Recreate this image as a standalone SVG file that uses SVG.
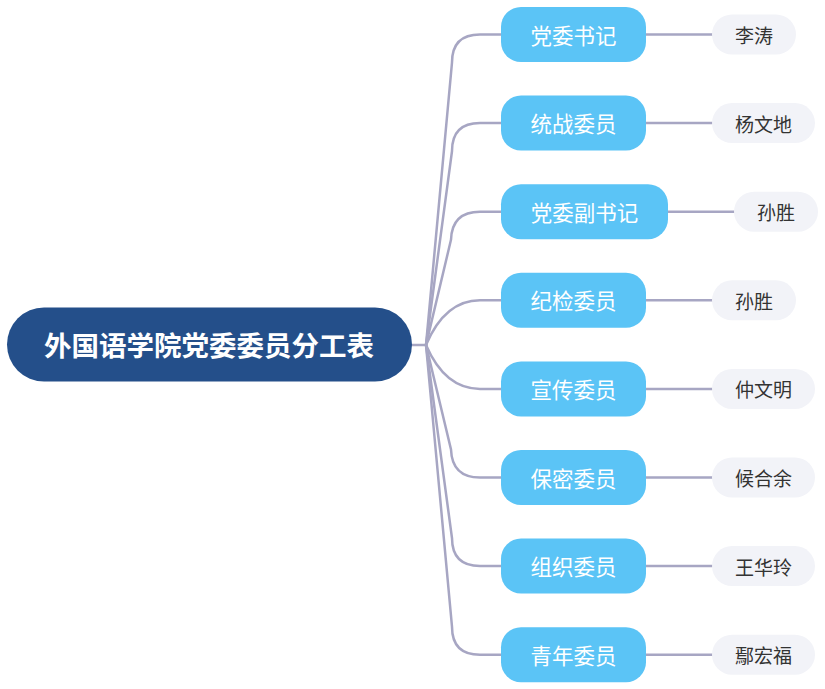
<svg xmlns="http://www.w3.org/2000/svg" width="825" height="689" viewBox="0 0 825 689">
<style>
.c{fill:none;stroke:#a7a6c3;stroke-width:2.5;stroke-linecap:round}
.root{fill:#244f8a}
.br{fill:#5bc4f6}
.lf{fill:#f2f3f8}
text{font-family:"Noto Sans CJK SC","Noto Sans",sans-serif;text-anchor:middle;dominant-baseline:central}
.rt{fill:#ffffff;font-size:27.5px;font-weight:bold}
.bt{fill:#ffffff;font-size:21.5px}
.lt{fill:#333333;font-size:19px}
</style>
<rect width="825" height="689" fill="#ffffff"/>
<g id="connectors">
<path class="c" d="M411,345 L426,345"/>
<path class="c" d="M426,345 L452,62.5 Q452,34.5 480,34.5 L501,34.5"/>
<path class="c" d="M426,345 L452,151.1 Q452,123.1 480,123.1 L501,123.1"/>
<path class="c" d="M426,345 L451,239.7 Q452,211.7 480,211.7 L501,211.7"/>
<path class="c" d="M426,345 Q445,300.3 480,300.3 L501,300.3"/>
<path class="c" d="M426,345 Q445,388.9 480,388.9 L501,388.9"/>
<path class="c" d="M426,345 L451,449.5 Q452,477.5 480,477.5 L501,477.5"/>
<path class="c" d="M426,345 L452,538.1 Q452,566.1 480,566.1 L501,566.1"/>
<path class="c" d="M426,345 L452,626.7 Q452,654.7 480,654.7 L501,654.7"/>
<path class="c" d="M646,34.5 L712,34.5"/>
<path class="c" d="M646,123.1 L712,123.1"/>
<path class="c" d="M668,211.7 L734,211.7"/>
<path class="c" d="M646,300.3 L712,300.3"/>
<path class="c" d="M646,388.9 L712,388.9"/>
<path class="c" d="M646,477.5 L712,477.5"/>
<path class="c" d="M646,566.1 L712,566.1"/>
<path class="c" d="M646,654.7 L712,654.7"/>
</g>
<g id="root"><rect class="root" x="7" y="307.5" width="405" height="74" rx="37"/><text class="rt" x="209" y="344">外国语学院党委委员分工表</text></g>
<g id="b1"><rect class="br" x="501" y="7" width="145" height="55" rx="20"/><text class="bt" x="573.5" y="34">党委书记</text></g>
<g id="b2"><rect class="br" x="501" y="95.6" width="145" height="55" rx="20"/><text class="bt" x="573.5" y="122.6">统战委员</text></g>
<g id="b3"><rect class="br" x="501" y="184.2" width="167" height="55" rx="20"/><text class="bt" x="584.5" y="211.2">党委副书记</text></g>
<g id="b4"><rect class="br" x="501" y="272.8" width="145" height="55" rx="20"/><text class="bt" x="573.5" y="299.8">纪检委员</text></g>
<g id="b5"><rect class="br" x="501" y="361.4" width="145" height="55" rx="20"/><text class="bt" x="573.5" y="388.4">宣传委员</text></g>
<g id="b6"><rect class="br" x="501" y="450" width="145" height="55" rx="20"/><text class="bt" x="573.5" y="477">保密委员</text></g>
<g id="b7"><rect class="br" x="501" y="538.6" width="145" height="55" rx="20"/><text class="bt" x="573.5" y="565.6">组织委员</text></g>
<g id="b8"><rect class="br" x="501" y="627.2" width="145" height="55" rx="20"/><text class="bt" x="573.5" y="654.2">青年委员</text></g>
<g id="l1"><rect class="lf" x="712" y="14.5" width="84" height="40" rx="20"/><text class="lt" x="754" y="34.5">李涛</text></g>
<g id="l2"><rect class="lf" x="712" y="103.1" width="103" height="40" rx="20"/><text class="lt" x="763.5" y="123.1">杨文地</text></g>
<g id="l3"><rect class="lf" x="734" y="191.7" width="84" height="40" rx="20"/><text class="lt" x="776" y="211.7">孙胜</text></g>
<g id="l4"><rect class="lf" x="712" y="280.3" width="84" height="40" rx="20"/><text class="lt" x="754" y="300.3">孙胜</text></g>
<g id="l5"><rect class="lf" x="712" y="368.9" width="103" height="40" rx="20"/><text class="lt" x="763.5" y="388.9">仲文明</text></g>
<g id="l6"><rect class="lf" x="712" y="457.5" width="103" height="40" rx="20"/><text class="lt" x="763.5" y="477.5">候合余</text></g>
<g id="l7"><rect class="lf" x="712" y="546.1" width="103" height="40" rx="20"/><text class="lt" x="763.5" y="566.1">王华玲</text></g>
<g id="l8"><rect class="lf" x="712" y="634.7" width="103" height="40" rx="20"/><text class="lt" x="763.5" y="654.7">鄢宏福</text></g>
</svg>
